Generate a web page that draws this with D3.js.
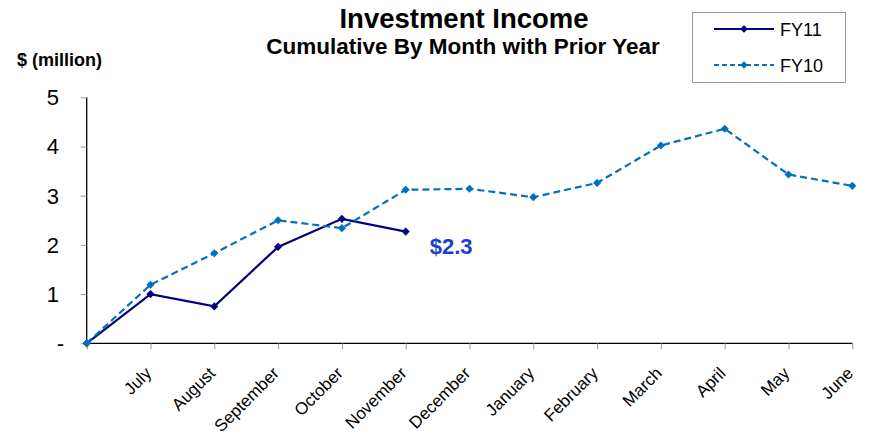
<!DOCTYPE html>
<html>
<head>
<meta charset="utf-8">
<script src="https://cdn.jsdelivr.net/npm/d3@7"></script>
<style>
  html, body { margin: 0; padding: 0; background: #fff; }
  svg { display: block; font-family: "Liberation Sans", Arial, sans-serif; }
</style>
</head>
<body>
<svg id="chart" width="871" height="439"></svg>
<script>
// Months of the fiscal year; the leading blank slot is the zero starting point.
const months = ["", "July", "August", "September", "October", "November", "December",
                "January", "February", "March", "April", "May", "June"];
// Cumulative investment income, $ million
const fy11 = [0, 1.00, 0.75, 1.96, 2.53, 2.27];
const fy10 = [0, 1.19, 1.83, 2.50, 2.34, 3.12, 3.14, 2.97, 3.26, 4.02, 4.36, 3.43, 3.20];
const yTicks = [0, 1, 2, 3, 4, 5];
const seriesNames = ["FY11", "FY10"];

const colFY11 = "#000080";
const colFY10 = "#0070c0";

const svg = d3.select("#chart");

const x = d3.scalePoint().domain(months).range([86.7, 852.3]);
const y = d3.scaleLinear().domain([0, 5]).range([343.3, 97.3]);

// Titles
svg.append("text").attr("x", 464).attr("y", 28).attr("text-anchor", "middle")
  .attr("font-size", 27.5).attr("font-weight", "bold").text("Investment Income");
svg.append("text").attr("x", 463).attr("y", 54).attr("text-anchor", "middle")
  .attr("font-size", 22.5).attr("font-weight", "bold").text("Cumulative By Month with Prior Year");
svg.append("text").attr("x", 17).attr("y", 66)
  .attr("font-size", 18).attr("font-weight", "bold").text("$ (million)");

// Y axis
const yAxis = d3.axisLeft(y).tickValues(yTicks).tickSize(6).tickPadding(0).tickFormat("");
const gy = svg.append("g").attr("transform", "translate(86.7,0)").call(yAxis);
gy.select(".domain").attr("stroke", "#000").attr("stroke-width", 1.3).attr("d", `M0,${y(5)}V${y(0)}`);
gy.selectAll(".tick line").attr("stroke", "#999");

// Y tick labels (zero shown as a dash, set slightly right like accounting format)
svg.append("g").selectAll("text").data(yTicks).join("text")
  .attr("x", d => d === 0 ? 64 : 59)
  .attr("y", d => y(d))
  .attr("dy", "0.36em")
  .attr("text-anchor", "end")
  .attr("font-size", 22)
  .attr("fill", "#000")
  .text(d => d === 0 ? "-" : d3.format("d")(d));

// X axis
const xAxis = d3.axisBottom(x).tickSize(6).tickFormat("");
const gx = svg.append("g").attr("transform", `translate(0,${y(0)})`).call(xAxis);
gx.select(".domain").attr("stroke", "#000").attr("stroke-width", 1.3)
  .attr("d", `M${x("")},0H${x("June")}`);
gx.selectAll(".tick line").attr("stroke", "#999");

// Rotated month labels
svg.append("g").selectAll("text").data(months.slice(1)).join("text")
  .attr("transform", d => `translate(${x(d) + 2},${y(0) + 31}) rotate(-45)`)
  .attr("text-anchor", "end")
  .attr("font-size", 17)
  .attr("fill", "#000")
  .text(d => d);

const line = d3.line().x((d, i) => x(months[i])).y(d => y(d));

function diamond(g, data, color) {
  g.selectAll("path.m").data(data).join("path").attr("class", "m")
    .attr("d", d3.symbol().type(d3.symbolDiamond2).size(42))
    .attr("transform", (d, i) => `translate(${x(months[i])},${y(d)})`)
    .attr("fill", color);
}

// FY11 series
const g11 = svg.append("g");
g11.append("path").datum(fy11).attr("d", line).attr("fill", "none")
  .attr("stroke", colFY11).attr("stroke-width", 2.2);
diamond(g11, fy11, colFY11);

// FY10 series (dashed)
const g10 = svg.append("g");
g10.append("path").datum(fy10).attr("d", line).attr("fill", "none")
  .attr("stroke", colFY10).attr("stroke-width", 2.2).attr("stroke-dasharray", "7,4");
diamond(g10, fy10, colFY10);

// Latest FY11 value label
const lastIdx = fy11.length - 1;
svg.append("text")
  .attr("x", x(months[lastIdx]) + 24).attr("y", y(fy11[lastIdx]) + 22)
  .attr("font-size", 22).attr("font-weight", "bold").attr("fill", "#1a3ccf")
  .text("$" + d3.format(".1f")(fy11[lastIdx]));

// Legend
const lg = svg.append("g");
lg.append("rect").attr("x", 692.5).attr("y", 12.5).attr("width", 153).attr("height", 70)
  .attr("fill", "#fff").attr("stroke", "#999").attr("stroke-width", 1);
const legendItems = [
  { name: seriesNames[0], color: colFY11, dash: null, yy: 29 },
  { name: seriesNames[1], color: colFY10, dash: "5,3", yy: 65 }
];
legendItems.forEach(it => {
  lg.append("line").attr("x1", 714).attr("x2", 774).attr("y1", it.yy).attr("y2", it.yy)
    .attr("stroke", it.color).attr("stroke-width", 2).attr("stroke-dasharray", it.dash);
  lg.append("path").attr("d", d3.symbol().type(d3.symbolDiamond2).size(36))
    .attr("transform", `translate(744,${it.yy})`).attr("fill", it.color);
  lg.append("text").attr("x", 780).attr("y", it.yy + 6.5).attr("font-size", 18)
    .attr("fill", "#000").text(it.name);
});
</script>
</body>
</html>
